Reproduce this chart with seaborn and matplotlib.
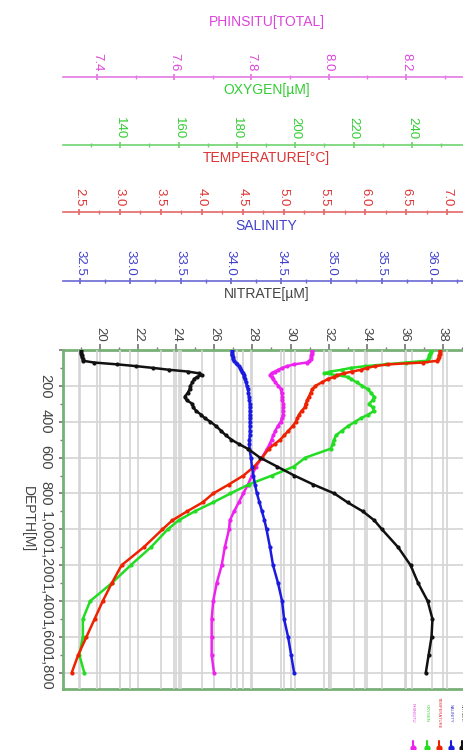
import numpy as np
import pandas as pd
import seaborn as sns
import matplotlib.pyplot as plt
from matplotlib.ticker import MultipleLocator, FuncFormatter
from matplotlib.lines import Line2D

# depth profile (m) shared by all variables
depth = [0, 10, 20, 30, 40, 50, 60, 70, 80, 90, 100, 110, 120, 130, 140, 150, 160, 180,
         200, 220, 240, 260, 280, 300, 320, 340, 360, 380, 400, 425, 450, 475, 500, 525,
         550, 600, 650, 700, 750, 800, 850, 900, 950, 1000, 1100, 1200, 1300, 1400, 1500,
         1600, 1700, 1800]

phinsitu = [7.956, 7.956, 7.956, 7.955, 7.955, 7.954, 7.950, 7.943, 7.910, 7.893, 7.880,
            7.870, 7.860, 7.852, 7.848, 7.852, 7.856, 7.862, 7.870, 7.877, 7.878, 7.880,
            7.879, 7.883, 7.882, 7.881, 7.882, 7.879, 7.876, 7.868, 7.862, 7.857, 7.852,
            7.847, 7.841, 7.827, 7.812, 7.801, 7.791, 7.779, 7.767, 7.755, 7.744, 7.742,
            7.731, 7.723, 7.710, 7.701, 7.697, 7.697, 7.697, 7.703]

oxygen = [246.5, 246.5, 246.3, 246.0, 245.8, 245.5, 245.0, 238.0, 231.0, 224.0, 219.0,
          216.0, 212.0, 210.0, 214.0, 218.0, 219.0, 221.0, 223.0, 225.0, 226.0, 227.0,
          226.5, 225.3, 226.5, 227.0, 225.0, 222.5, 220.5, 218.0, 216.0, 214.0, 213.3,
          212.8, 212.2, 203.5, 199.5, 192.0, 184.0, 177.8, 171.8, 165.5, 160.0, 156.3,
          150.5, 143.6, 137.1, 129.7, 127.2, 127.2, 126.0, 127.7]

temperature = [6.91, 6.91, 6.91, 6.90, 6.90, 6.89, 6.88, 6.70, 6.28, 6.12, 6.02, 5.95,
               5.84, 5.74, 5.66, 5.62, 5.55, 5.47, 5.39, 5.35, 5.33, 5.31, 5.29, 5.27,
               5.26, 5.22, 5.19, 5.17, 5.15, 5.11, 5.06, 5.01, 4.96, 4.89, 4.82, 4.74,
               4.64, 4.51, 4.33, 4.14, 4.01, 3.82, 3.64, 3.52, 3.29, 3.02, 2.90, 2.79,
               2.69, 2.59, 2.49, 2.41]

salinity = [34.01, 34.01, 34.01, 34.01, 34.02, 34.02, 34.03, 34.05, 34.06, 34.08, 34.09,
            34.10, 34.11, 34.12, 34.13, 34.13, 34.14, 34.15, 34.16, 34.17, 34.175, 34.18,
            34.185, 34.19, 34.19, 34.19, 34.19, 34.19, 34.19, 34.19, 34.19, 34.19, 34.185,
            34.185, 34.185, 34.20, 34.21, 34.225, 34.24, 34.26, 34.285, 34.31, 34.335,
            34.355, 34.39, 34.42, 34.47, 34.51, 34.53, 34.57, 34.60, 34.63]

nitrate = [19.0, 19.0, 19.0, 19.05, 19.05, 19.1, 19.1, 19.7, 20.9, 21.9, 22.8, 23.6, 24.6,
           25.2, 25.35, 25.1, 24.95, 24.85, 24.75, 24.7, 24.6, 24.45, 24.55, 24.85, 24.9,
           25.05, 25.3, 25.5, 25.8, 26.1, 26.35, 26.6, 26.9, 27.3, 27.75, 28.4, 29.3, 30.2,
           31.2, 32.3, 33.0, 33.8, 34.4, 34.8, 35.65, 36.3, 36.7, 37.2, 37.45, 37.4, 37.25,
           37.1]

titles = ['PHINSITU[TOTAL]', 'OXYGEN[µM]', 'TEMPERATURE[°C]', 'SALINITY', 'NITRATE[µM]']
legend_names = ['PHINSITU', 'OXYGEN', 'TEMPERATURE', 'SALINITY', 'NITRATE']
series = [phinsitu, oxygen, temperature, salinity, nitrate]
xlims = [(7.312, 8.366), (120.4, 259.9), (2.304, 7.28), (32.33, 36.38), (18.06, 39.42)]
majors = [0.2, 20, 0.5, 0.5, 2]
minors = [0.1, 10, 0.25, 0.25, 1]
fmts = ['{:.1f}', '{:.0f}', '{:.1f}', '{:.1f}', '{:.0f}']
line_colors = ['#ee22ee', '#22dd22', '#ee2200', '#1a1ae0', '#111111']
axis_colors = ['#e47ae4', '#6fd46f', '#e46a6a', '#6a6ad4', '#777777']
text_colors = ['#dd44dd', '#33cc33', '#dd3333', '#4040cc', '#444444']
title_y = [22, 90, 158, 226, 294]
line_y = [77, 145, 212, 281, 350]

sns.set_theme(style='white')
plt.rcParams['font.family'] = ['Liberation Sans', 'DejaVu Sans']

W, H = 463, 750
fig = plt.figure(figsize=(W / 100, H / 100), dpi=100)
fig.patch.set_facecolor('white')


def fy(py):
    return 1 - py / H


left = 63 / W
width = 407 / W
top_px, bot_px = 350, 689
grid_kw = dict(color='#d4d4d4', linewidth=1.2)

# main axes (depth + nitrate scale)
ax = fig.add_axes([left, fy(bot_px), width, (bot_px - top_px) / H])
ax.set_facecolor('white')
ax.set_xlim(xlims[4])
ax.set_ylim(1890, 0)

# grid lines of the other scales, drawn below every curve
for i in range(4):
    gx = ax.twiny()
    gx.set_xlim(xlims[i])
    gx.xaxis.set_major_locator(MultipleLocator(majors[i]))
    gx.tick_params(axis='x', which='both', top=False, bottom=False,
                   labeltop=False, labelbottom=False)
    gx.grid(True, axis='x', which='major', **grid_kw)
    gx.patch.set_visible(False)
    for s in gx.spines.values():
        s.set_visible(False)

# curves, each on its own x scale
for i in range(5):
    dx = ax.twiny()
    df = pd.DataFrame({'value': series[i], 'depth': depth})
    sns.lineplot(data=df, x='value', y='depth', ax=dx, sort=False, estimator=None,
                 color=line_colors[i], linewidth=1.8, marker='o', markersize=3,
                 markeredgewidth=0)
    dx.set_xlim(xlims[i])
    dx.set_xlabel('')
    dx.set_ylabel('')
    dx.tick_params(axis='x', which='both', top=False, bottom=False,
                   labeltop=False, labelbottom=False)
    dx.grid(False)
    dx.patch.set_visible(False)
    for s in dx.spines.values():
        s.set_visible(False)

# twiny() moves the parent's ticks to the bottom, so style the main axes afterwards
ax.set_ylim(1890, 0)
ax.xaxis.tick_top()
ax.xaxis.set_major_locator(MultipleLocator(majors[4]))
ax.xaxis.set_minor_locator(MultipleLocator(minors[4]))
ax.xaxis.set_major_formatter(FuncFormatter(lambda v, p: fmts[4].format(v)))
ax.yaxis.set_major_locator(MultipleLocator(200))
ax.yaxis.set_minor_locator(MultipleLocator(100))
ax.yaxis.set_major_formatter(FuncFormatter(lambda v, p: '' if v <= 0 else f'{int(round(v)):,}'))
ax.tick_params(axis='x', which='both', top=True, bottom=False, labeltop=True,
               labelbottom=False, direction='out', colors=axis_colors[4],
               labelcolor=text_colors[4], labelrotation=-90, labelsize=9.5, pad=2)
ax.tick_params(axis='x', which='major', length=4)
ax.tick_params(axis='x', which='minor', length=2.5)
ax.tick_params(axis='y', which='both', left=True, direction='out', colors='#777777',
               labelcolor='#444444', labelrotation=-90, labelsize=10.5, pad=4.5)
ax.tick_params(axis='y', which='major', length=3)
ax.tick_params(axis='y', which='minor', length=2)
for lab in ax.get_yticklabels():
    lab.set_va('center')
ax.grid(True, which='major', **grid_kw)
ax.set_axisbelow(True)
ax.set_ylabel('DEPTH[M]', rotation=270, fontsize=10, color='#444444', labelpad=8,
              va='center')
for s in ax.spines.values():
    s.set_color('#78b078')
    s.set_linewidth(2)

# detached scale bars above the plot
for i in range(4):
    tax = fig.add_axes([left, fy(line_y[i]), width, 0.0001])
    tax.set_xlim(xlims[i])
    tax.set_yticks([])
    tax.patch.set_visible(False)
    tax.xaxis.tick_top()
    tax.xaxis.set_major_locator(MultipleLocator(majors[i]))
    tax.xaxis.set_minor_locator(MultipleLocator(minors[i]))
    tax.xaxis.set_major_formatter(FuncFormatter(lambda v, p, f=fmts[i]: f.format(v)))
    tax.tick_params(axis='x', which='both', top=True, bottom=False, direction='inout',
                    colors=axis_colors[i], labelcolor=text_colors[i], labelrotation=-90,
                    labelsize=9.5, pad=1.5)
    tax.tick_params(axis='x', which='major', length=5)
    tax.tick_params(axis='x', which='minor', length=3)
    for name, s in tax.spines.items():
        s.set_visible(name == 'top')
    tax.spines['top'].set_color(axis_colors[i])
    tax.spines['top'].set_linewidth(1.2)

for i in range(5):
    fig.text((63 + 470) / 2 / W, fy(title_y[i]), titles[i], ha='center', va='center',
             fontsize=10, color=text_colors[i])

# legend in the bottom right corner
leg_x = [413, 427, 439, 451, 462]
for i in range(5):
    fig.text(leg_x[i] / W, fy(713), legend_names[i], rotation=270, ha='center',
             va='center', fontsize=3, color=text_colors[i])
    fig.add_artist(Line2D([leg_x[i] / W] * 3, [fy(741), fy(748), fy(755)],
                          transform=fig.transFigure, color=line_colors[i], lw=1.5,
                          marker='o', markersize=3.5, markevery=[1]))

fig.savefig('out.png', dpi=100, facecolor='white')
